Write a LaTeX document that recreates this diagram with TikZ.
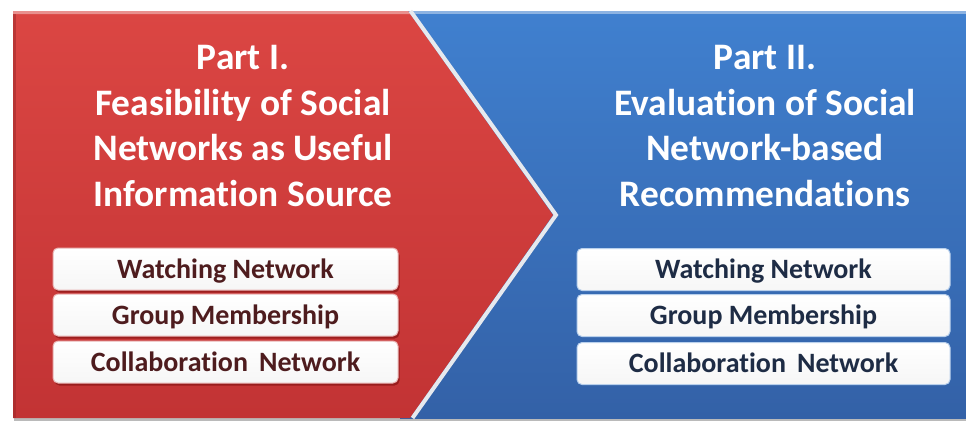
\documentclass[tikz,border=0pt]{standalone}
\usepackage{fontspec}
\setmainfont{Carlito}[Ligatures={NoCommon}]
\usetikzlibrary{shadows}
\definecolor{redtop}{HTML}{DB4643}
\definecolor{redbot}{HTML}{C23334}
\definecolor{bluetop}{HTML}{4080CF}
\definecolor{bluebot}{HTML}{3361A7}
\definecolor{maroontxt}{HTML}{4E1C1E}
\definecolor{navytxt}{HTML}{1E2C45}
\definecolor{pinkedge}{HTML}{E9B3B3}
\definecolor{blueedge}{HTML}{B9D0EC}
\definecolor{edgewhite}{HTML}{E6E9EE}
\tikzset{
  titletext/.style={align=center, text=white, inner sep=0pt, anchor=north,
    font=\fontsize{37.4}{45.7}\selectfont\bfseries},
  itembox/.style={rounded corners=5pt, minimum height=42pt, text height=22pt,
    text depth=4pt, inner sep=0pt, top color=white, bottom color=white!93!gray,
    line width=1pt, font=\fontsize{28}{32}\selectfont\bfseries},
  leftbox/.style={itembox, minimum width=345pt, draw=pinkedge, text=maroontxt,
    drop shadow={shadow xshift=1.5pt, shadow yshift=-2.5pt, fill=black!60!red, opacity=0.45}},
  rightbox/.style={itembox, minimum width=373pt, draw=blueedge, text=navytxt},
}
\begin{document}
\begin{tikzpicture}[x=1pt, y=-1pt]
  \useasboundingbox (0,0) rectangle (966,423);
  \fill[white] (0,0) rectangle (966,423);
  % shadow under panels
  \fill[black!45, opacity=0.6] (14,418) rectangle (966,421);
  % blue panel
  \shade[top color=bluetop, bottom color=bluebot] (400,11) rectangle (966,418);
  \fill[bluetop!60!white] (400,11) rectangle (966,14);
  % red chevron
  \shade[top color=redtop, bottom color=redbot]
    (13,11) -- (408,11) -- (553,215) -- (410,418) -- (13,418) -- cycle;
  \fill[redtop!60!white] (13,11) -- (408,11) -- (410.2,14) -- (13,14) -- cycle;
  \fill[redbot!80!black, opacity=0.5] (13,14) rectangle (16,418);
  \draw[edgewhite, line width=4pt, line join=miter]
    (410.5,11) -- (556,215) -- (412.5,418);
  % titles
  \node[titletext] (t1) at (243,45)
    {Part I.\\Feasibility of Social\\Networks as Useful\\Information Source};
  \node[titletext] (t2) at (765,45)
    {Part II.\\Evaluation of Social\\Network-based\\Recommendations};
  % left boxes
  \node[leftbox] (l1) at (225.5,269) {Watching Network};
  \node[leftbox] (l2) at (225.5,315) {Group Membership};
  \node[leftbox] (l3) at (225.5,362) {Collaboration\, Network};
  % right boxes
  \node[rightbox] (r1) at (763.5,269.5) {Watching Network};
  \node[rightbox] (r2) at (763.5,315.5) {Group Membership};
  \node[rightbox] (r3) at (763.5,363.5) {Collaboration\, Network};
\end{tikzpicture}
\end{document}
